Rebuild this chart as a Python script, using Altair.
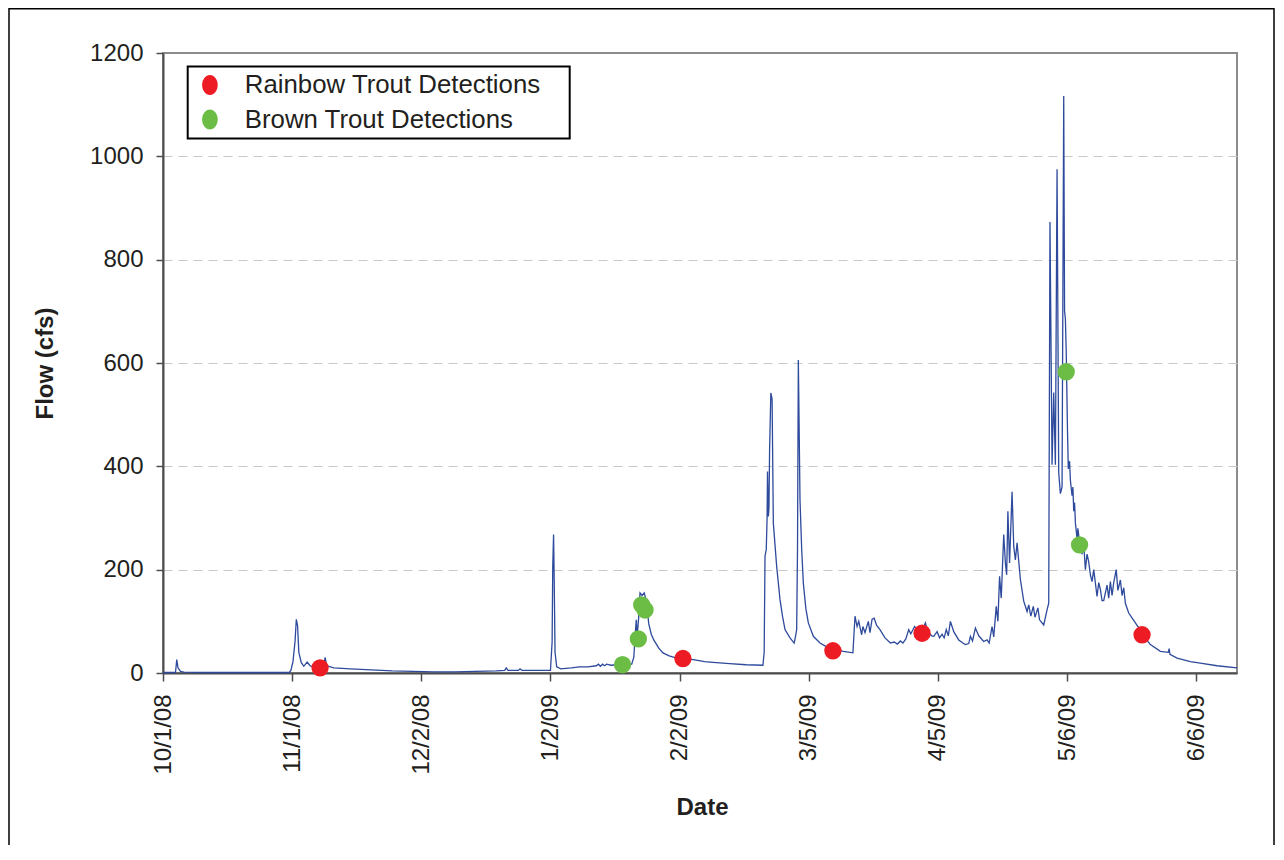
import altair as alt
import pandas as pd

START = pd.Timestamp("2008-10-01")

# Flow record (days since 10/1/08, flow in cfs)
flow_day = [0, 3.0, 3.3, 3.6, 4.2, 5, 10, 20, 30.3, 30.7, 31.2, 31.7, 32.0, 32.3, 32.6, 33.2, 33.8, 34.6, 35.3, 36.2,
            37.5, 38.5, 38.9, 39.3, 41, 45, 50, 55, 60, 65, 70, 75, 80, 82.0, 82.4, 82.8, 85.3, 85.7, 86.2, 90,
            93.0, 93.4, 93.55, 93.75, 93.9, 94.1, 94.5, 95.5, 98, 100, 102, 104, 104.5, 105, 105.5, 106, 106.5, 107.5, 109, 111,
            112.5, 113.0, 113.4, 113.6, 113.8, 114.2, 114.5, 115, 115.5, 116, 116.6, 117.2, 117.8, 119, 120, 121.5, 123.3, 125, 127.3, 130,
            132, 136, 140, 144, 144.3, 144.5, 144.8, 145.0, 145.1, 145.3, 145.45, 145.6, 145.9, 146.2, 146.5, 147.3, 148.1, 148.7, 149.3, 150.5,
            151.5, 151.8, 152.1, 152.3, 152.5, 152.9, 153.3, 153.7, 154.3, 154.9, 156.1, 157.7, 159, 160.5, 163.3, 165.6, 166.1, 166.6, 167, 167.7,
            168, 168.5, 169.3, 169.7, 170.2, 170.7, 171.3, 172.1, 173.3, 174.6, 175.5, 176.3, 177, 177.6, 178.3, 179, 179.5, 180.4, 181.2, 182,
            183, 183.5, 184.5, 185, 185.8, 186.4, 187, 187.5, 188, 188.5, 189, 189.8, 191, 192, 192.6, 193.4, 193.8, 194.3, 195, 195.8,
            197, 197.8, 198.3, 199, 199.4, 200, 200.4, 200.8, 201.2, 201.8, 202.2, 202.5, 202.8, 203.2, 203.8, 204.2, 204.6, 205, 205.8, 206.6,
            207.4, 207.8, 208.3, 208.9, 209.3, 210, 210.4, 211.4, 212.2, 212.6, 212.9, 213.4, 213.8, 214.2, 214.6, 215.0, 215.4, 215.8, 216.2, 216.4,
            216.6, 216.8, 217.1, 217.3, 217.6, 217.8, 218.2, 218.4, 218.6, 218.8, 219.0, 219.4, 219.6, 220.2, 220.6, 221.0, 221.4, 221.8, 222.2, 222.6,
            223.0, 223.4, 224.2, 224.6, 225.0, 225.4, 225.8, 226.6, 227.0, 227.4, 227.8, 228.2, 228.8, 229.2, 229.8, 230.2, 230.6, 231.0, 231.8, 233,
            234, 235, 236, 237, 239.4, 241.3, 241.5, 241.7, 243.4, 246.6, 249, 253, 257.8]
flow_cfs = [1, 1, 26, 10, 3, 1.5, 1, 1, 1, 5, 22, 62, 104, 92, 40, 20, 13, 21, 14, 11,
            10, 12, 30, 14, 10, 8, 6, 4, 3, 2, 2, 3, 4, 5, 10, 5, 5, 8, 5, 5,
            5, 60, 205, 268, 180, 40, 12, 8, 10, 12, 12, 14, 17, 13, 17, 14, 17, 15, 16, 15,
            17, 30, 80, 103, 70, 110, 155, 150, 155, 140, 95, 75, 64, 48, 39, 33, 29, 27, 26, 22,
            20.6, 18, 16, 15, 40, 226, 239, 300, 390, 303, 320, 432, 542, 530, 290, 206, 142, 110, 84, 68,
            58, 70, 84, 239, 606, 335, 240, 174, 125, 97, 71, 58, 52, 47, 42, 39, 110, 90, 100, 74,
            90, 78, 100, 78, 104, 106, 92, 84, 68, 58, 60, 56, 62, 58, 66, 84, 76, 90, 80, 77,
            97, 80, 72, 71, 80, 68, 75, 68, 84, 72, 100, 80, 64, 58, 55, 57, 71, 62, 87, 72,
            61, 64, 58, 90, 70, 129, 100, 187, 145, 268, 213, 190, 313, 213, 351, 245, 219, 252, 181, 139,
            119, 132, 110, 129, 108, 126, 103, 93, 122, 135, 873, 403, 543, 403, 975, 388, 347, 360, 1117, 700,
            686, 622, 471, 395, 410, 373, 343, 360, 313, 330, 291, 260, 280, 240, 230, 250, 200, 230, 215, 190,
            177, 200, 148, 175, 162, 140, 140, 170, 145, 177, 150, 175, 200, 160, 180, 150, 165, 135, 116, 102,
            90, 80, 65, 55, 42, 40, 47, 36, 29, 22, 19, 14, 10]

# Detections (days since 10/1/08, flow in cfs)
rainbow_day = [37.7, 124.8, 160.8, 182.2, 235.0]
rainbow_cfs = [10, 28, 43, 77, 74]
brown_day = [110.3, 114.1, 114.9, 115.7, 216.8, 220.0]
brown_cfs = [16, 66, 132, 122, 583, 248]

series_names = ["Rainbow Trout Detections", "Brown Trout Detections"]
series_colors = ["#ed1c24", "#6cbd45"]

y_ticks = [0, 200, 400, 600, 800, 1000, 1200]
x_tick_dates = [(2008, 10, 1), (2008, 11, 1), (2008, 12, 2), (2009, 1, 2), (2009, 2, 2),
                (2009, 3, 5), (2009, 4, 5), (2009, 5, 6), (2009, 6, 6)]

flow_df = pd.DataFrame({
    "date": START + pd.to_timedelta(flow_day, unit="D"),
    "flow": flow_cfs,
})
det_df = pd.DataFrame({
    "date": START + pd.to_timedelta(rainbow_day + brown_day, unit="D"),
    "flow": rainbow_cfs + brown_cfs,
    "species": [series_names[0]] * len(rainbow_day) + [series_names[1]] * len(brown_day),
})

FONT = "Liberation Sans"
TXT = "#231f20"

x_scale = alt.Scale(domain=[alt.DateTime(year=2008, month=10, date=1),
                            alt.DateTime(year=2009, month=6, date=15, hours=19)])
x_axis = alt.Axis(
    values=[alt.DateTime(year=y, month=m, date=d) for (y, m, d) in x_tick_dates],
    format="%-m/%-d/%y", labelAngle=270, labelFontSize=24, labelPadding=13,
    tickSize=8, grid=False, title="Date", titleFontSize=24, titleFontWeight="bold",
    titleY=141, titleX=539, titleBaseline="alphabetic", labelFlush=False,
)
y_scale = alt.Scale(domain=[0, 1200], nice=False)
y_axis = alt.Axis(
    values=y_ticks, format="d", labelFontSize=24, labelPadding=13, tickSize=7,
    grid=True, gridColor="#c8c8c8", gridDash=[9, 6], gridWidth=1,
    gridOpacity={"condition": {"test": "datum.value >= 1200 || datum.value <= 0", "value": 0}, "value": 1},
    title="Flow (cfs)", titleFontSize=24, titleFontWeight="bold", titleAngle=270,
    titleX=-111, titleY=310, titleBaseline="alphabetic",
)

line = alt.Chart(flow_df).mark_line(color="#2d4a9c", strokeWidth=1.3).encode(
    x=alt.X("date:T", scale=x_scale, axis=x_axis),
    y=alt.Y("flow:Q", scale=y_scale, axis=y_axis),
)

ellipse = "M0,-1A0.78,1,0,1,1,0,1A0.78,1,0,1,1,0,-1Z"
points = alt.Chart(det_df).mark_circle(size=300, opacity=1).encode(
    x="date:T",
    y="flow:Q",
    color=alt.Color(
        "species:N",
        scale=alt.Scale(domain=series_names, range=series_colors),
        legend=alt.Legend(
            title=".", titleOrient="right", titleColor="#ffffff", titleFontSize=25,
            titlePadding=16,
            orient="none", legendX=24.7, legendY=13.4,
            labelFontSize=25.8, labelFont=FONT, labelColor=TXT, labelLimit=500,
            symbolType=ellipse, symbolSize=400, symbolOpacity=1, symbolStrokeWidth=0,
            symbolOffset=3.5, labelOffset=22, padding=5.8, rowPadding=7.5,
            strokeColor="#000000", fillColor="#ffffff",
        ),
    ),
)

frame = alt.Chart(pd.DataFrame({"k": [0]})).mark_rect(
    fillOpacity=0, stroke="#000000", strokeWidth=1.5
).encode(
    x=alt.value(-154), x2=alt.value(1111), y=alt.value(-44.3), y2=alt.value(900)
)

chart = alt.layer(line, points, frame).properties(
    width=1074, height=620,
    autosize=alt.AutoSizeParams(type="none"),
    padding={"left": 155, "top": 45, "right": 38, "bottom": 172},
).configure_view(
    stroke="#8c8c8c", strokeWidth=2
).configure_axis(
    labelFont=FONT, titleFont=FONT, labelColor=TXT, titleColor=TXT,
    domainColor="#4d4d4d", domainWidth=2, tickColor="#4d4d4d", tickWidth=1.5,
).configure_legend(
    strokeWidth=2
)

chart.save("out.html", embed_options={"renderer": "svg", "actions": False})
